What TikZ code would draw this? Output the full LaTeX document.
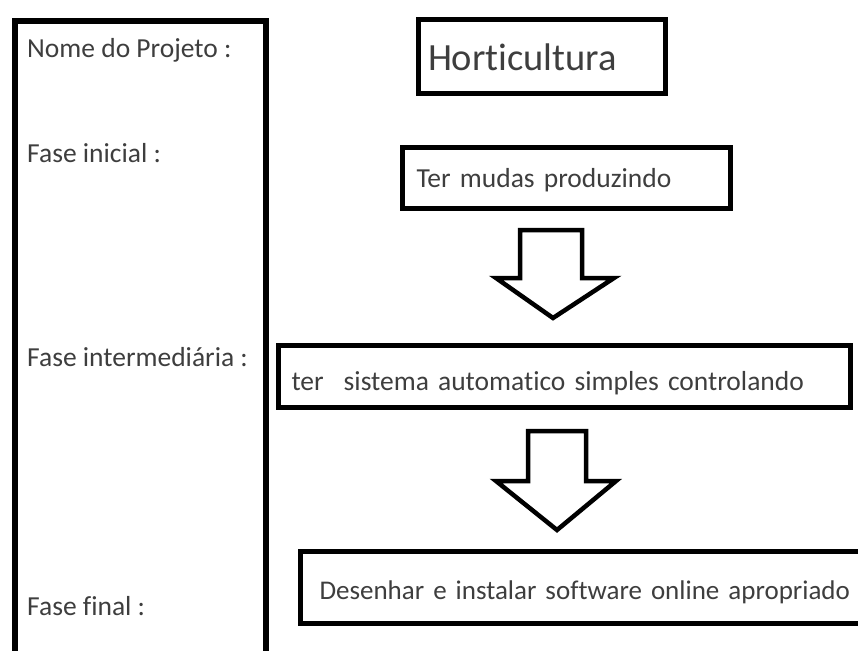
\documentclass[tikz,border=0pt]{standalone}
\usepackage{fontspec}
\setmainfont{Carlito}[Ligatures=NoCommon]
\definecolor{txt}{RGB}{62,62,62}
\begin{document}
\begin{tikzpicture}[x=1pt,y=-1pt,
  box/.style={draw, line width=5pt, rectangle, outer sep=0pt, inner ysep=0pt,
    align=left, text=txt, anchor=north west, font=\fontsize{27.5}{33}\selectfont},
  lab/.style={anchor=base west, inner sep=0pt, text=txt, font=\fontsize{27.5}{33}\selectfont},
  blockarrow/.style={draw, line width=4.5pt, line join=miter, fill=white}]
\useasboundingbox (0,0) rectangle (858,650);
\clip (0,0) rectangle (858,650);
\fill[white] (0,0) rectangle (858,650);

% left column frame
\node[box, line width=6pt, minimum width=251, minimum height=700] (frame) at (15,21) {};
\node[lab] (l1) at (27,58) {Nome do Projeto :};
\node[lab] (l2) at (27,162) {Fase inicial :};
\node[lab] (l3) at (27,366) {Fase intermediária :};
\node[lab] (l4) at (27,615) {Fase final :};

% boxes
\node[box, minimum width=247, minimum height=74, inner xsep=10, text width=227,
  text height=51, text depth=23, font=\fontsize{38.5}{46}\selectfont] (hort) at (418,20) {Horticultura};
\node[box, minimum width=328, minimum height=61, inner xsep=14, text width=300,
  text height=39.5, text depth=21.5] (b1) at (402.5,147.5) {Ter mudas produzindo};
\node[box, minimum width=572, minimum height=62, inner xsep=13, text width=546,
  text height=44.5, text depth=17.5] (b2) at (278.5,345.5) {ter\hspace{20pt}sistema automatico simples controlando};
\node[box, minimum width=580, minimum height=72, inner xsep=19, text width=542,
  text height=47.5, text depth=24.5, font=\fontsize{27}{32}\selectfont] (b3) at (300.5,551.5) {Desenhar e instalar software online apropriado};

% block arrows
\draw[blockarrow] (520,230) -- (582,230) -- (582,278) -- (614,278) -- (553,318)
  -- (496,278) -- (520,278) -- cycle;
\draw[blockarrow] (528,431) -- (586,431) -- (586,481) -- (616,481) -- (557,530)
  -- (496,481) -- (528,481) -- cycle;
\end{tikzpicture}
\end{document}
